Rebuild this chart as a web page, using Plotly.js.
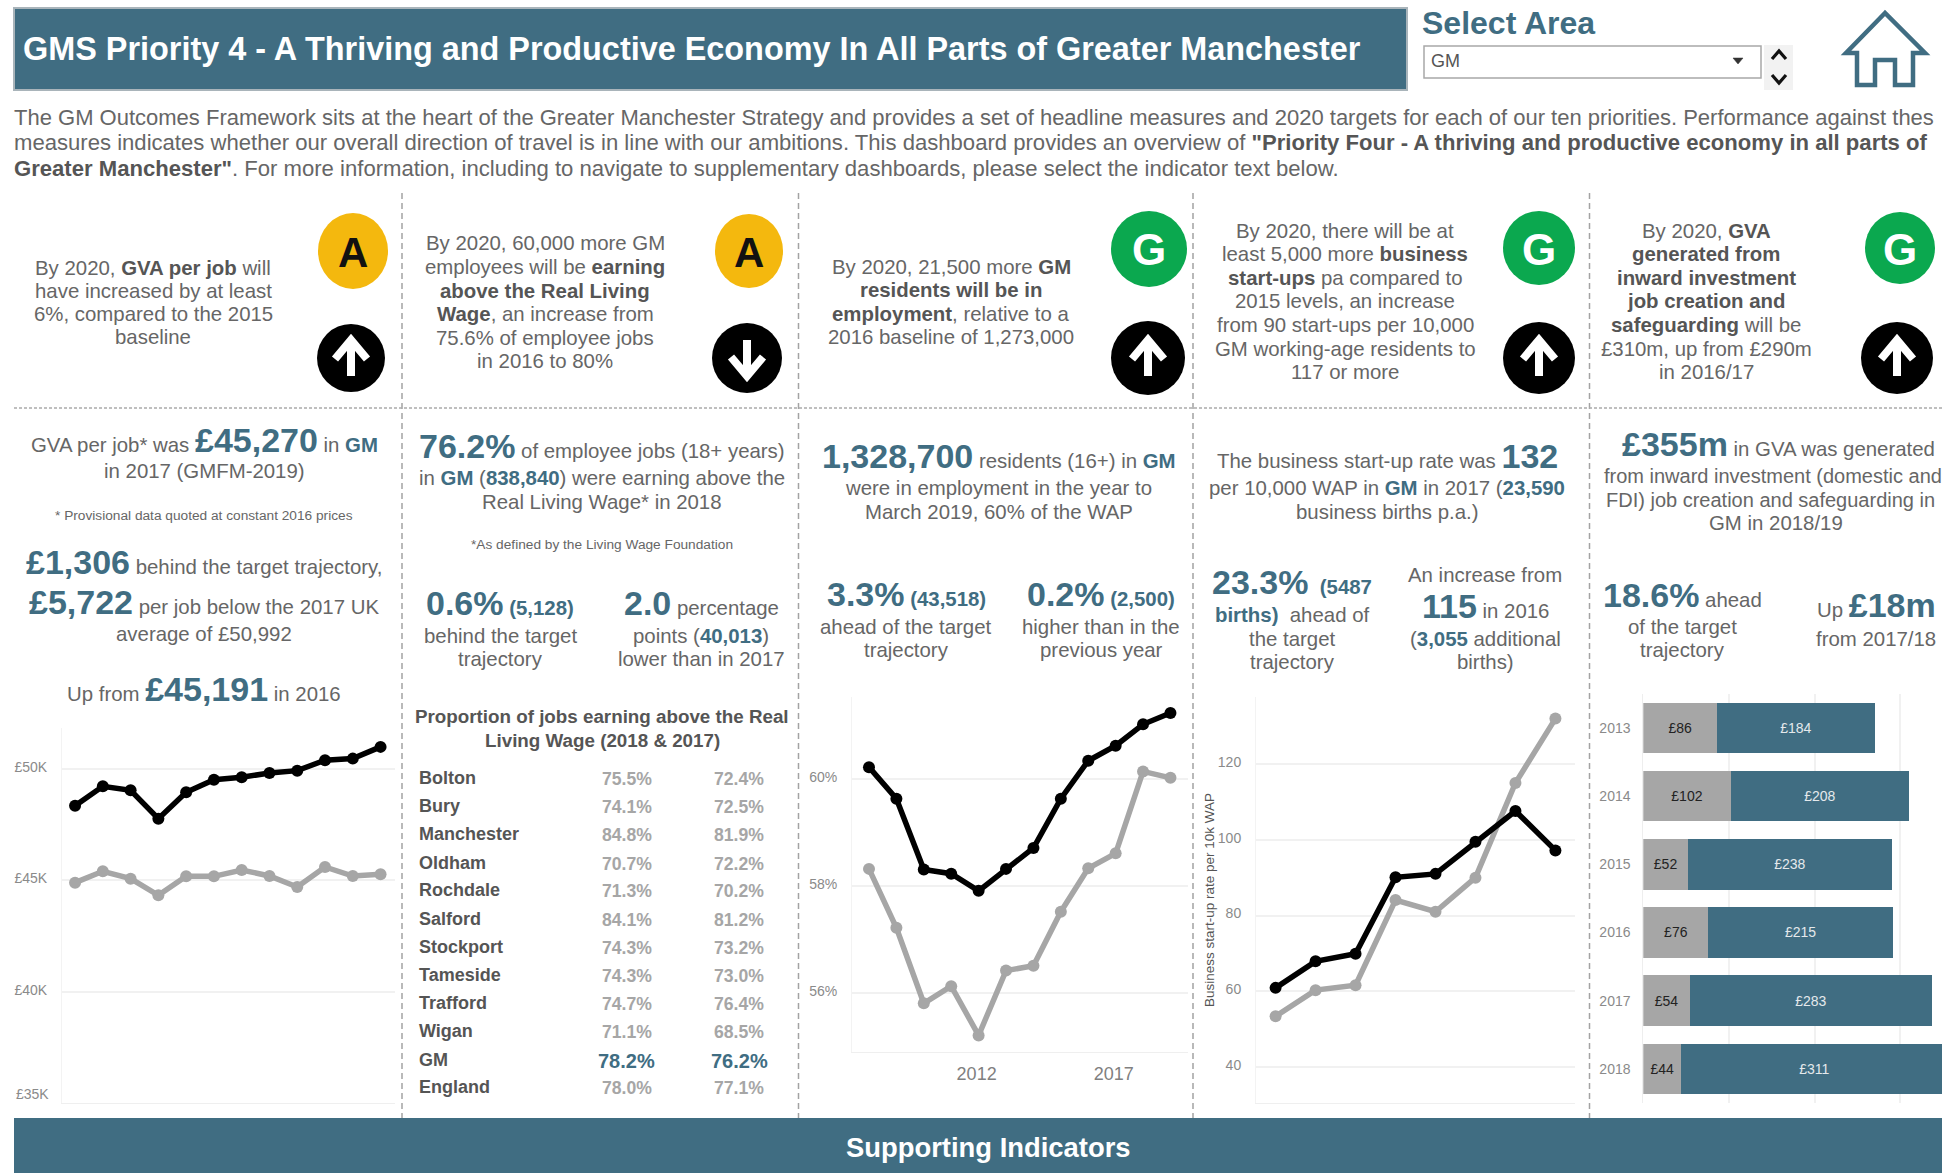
<!DOCTYPE html>
<html>
<head>
<meta charset="utf-8">
<script src="https://cdn.plot.ly/plotly-3.0.1.min.js"></script>
<style>html,body{margin:0;padding:0;background:#fff;overflow:hidden}#chart{width:1942px;height:1173px}</style>
</head>
<body>
<div id="chart"></div>
<script>
// ---------- data ----------
const gvaYears = [2006,2007,2008,2009,2010,2011,2012,2013,2014,2015,2016,2017];
const gvaUK = [48350,49220,49040,47765,48950,49520,49625,49820,49925,50390,50465,50992];
const gvaGM = [44895,45405,45075,44325,45180,45180,45465,45195,44700,45600,45191,45270];
const empYears = [2008,2009,2010,2011,2012,2013,2014,2015,2016,2017,2018,2019];
const empUK = [60.22,59.63,58.31,58.23,57.91,58.32,58.71,59.63,60.34,60.62,61.02,61.23];
const empGM = [58.32,57.22,55.81,56.13,55.21,56.42,56.51,57.52,58.33,58.61,60.14,60.02];
const startYears = [2010,2011,2012,2013,2014,2015,2016,2017];
const startUK = [60.9,67.9,69.9,90.1,91.0,99.5,107.6,97.2];
const startGM = [53.4,60.3,61.6,84.1,81.0,90.0,115,132];
const fdiYears = ['2013','2014','2015','2016','2017','2018'];
const fdiGrey = [86,102,52,76,54,44];
const fdiTeal = [184,208,238,215,283,311];
const rlwAreas = ['Bolton','Bury','Manchester','Oldham','Rochdale','Salford','Stockport','Tameside','Trafford','Wigan','GM','England'];
const rlwCol1 = ['75.5%','74.1%','84.8%','70.7%','71.3%','84.1%','74.3%','74.3%','74.7%','71.1%','78.2%','78.0%'];
const rlwCol2 = ['72.4%','72.5%','81.9%','72.2%','70.2%','81.2%','73.2%','73.0%','76.4%','68.5%','76.2%','77.1%'];
const gvaTicks = [40000,45000,50000];
const gvaTickLabels = ['£40K','£45K','£50K'];
const empTicks = [56,58,60];
const empTickLabels = ['56%','58%','60%'];
const startTicks = [40,60,80,100,120];
const yearTicks = [2012,2017];

// ---------- page helpers ----------
const W = 1942, H = 1173;
const TEAL = '#406d82', TXT = '#666666', DARK = '#555555';
const FONT = '"Liberation Sans", Arial, sans-serif';
const X = p => p / W, Y = p => 1 - p / H;
const anns = [], shapes = [];

function T(x, y, text, size, anchor, color) {
  anns.push({xref:'paper', yref:'paper', x:X(x), y:Y(y), text:text, showarrow:false,
    xanchor:anchor||'center', yanchor:'middle', align:anchor||'center', borderpad:0,
    font:{family:FONT, size:size||20.4, color:color||TXT}});
}
const BIG = s => `<span style="font-size:34px;color:${TEAL}"><b>${s}</b></span>`;
const TB = s => `<span style="color:${TEAL}"><b>${s}</b></span>`;
const K = s => `<b>${s}</b>`;
const KD = s => `<span style="color:${DARK}"><b>${s}</b></span>`;

function rect(x0,y0,x1,y1,fill,line,lw){
  shapes.push({type:'rect',xref:'paper',yref:'paper',x0:X(x0),x1:X(x1),y0:Y(y0),y1:Y(y1),
    fillcolor:fill||'rgba(0,0,0,0)',line:{color:line||'rgba(0,0,0,0)',width:lw||0}});
}
function oval(cx,cy,rx,ry,fill){
  shapes.push({type:'circle',xref:'paper',yref:'paper',x0:X(cx-rx),x1:X(cx+rx),y0:Y(cy-ry),y1:Y(cy+ry),
    fillcolor:fill,line:{width:0}});
}
function seg(x0,y0,x1,y1,dash,color,lw){
  shapes.push({type:'line',xref:'paper',yref:'paper',x0:X(x0),x1:X(x1),y0:Y(y0),y1:Y(y1),
    line:{color:color||'#a3a3a3',width:lw||1.5,dash:dash||'solid'}});
}
function poly(pts,close,line,lw,fill){
  const d = pts.map((p,i)=>(i?'L':'M')+X(p[0])+','+Y(p[1])).join(' ')+(close?' Z':'');
  shapes.push({type:'path',xref:'paper',yref:'paper',path:d,line:{color:line||'rgba(0,0,0,0)',width:lw||0},
    fillcolor:fill||'rgba(0,0,0,0)'});
}
function dirArrow(cx,cy,rx,ry,up){
  oval(cx,cy,rx,ry,'#000000');
  const s = up?1:-1;
  poly([[cx,cy+18*s],[cx,cy-17*s]],false,'#fff',8);
  poly([[cx-16,cy+1*s],[cx,cy-18*s],[cx+16,cy+1*s]],false,'#fff',8);
}
function badge(cx,cy,rx,ry,fill,letter,color,size){
  oval(cx,cy,rx,ry,fill);
  T(cx,cy+1,K(letter),size,'center',color);
}

// ---------- header ----------
rect(14,8,1407,90,TEAL,'#a9b4ba',2);
T(22,49,K('GMS Priority 4 - A Thriving and Productive Economy In All Parts of Greater Manchester'),32.4,'left','#ffffff');
T(1421,23,K('Select Area'),32,'left',TEAL);
rect(1424,46,1761,78,'#ffffff','#a8a8a8',1.5);
T(1430,61,'GM',18,'left','#555555');
poly([[1733,58],[1743,58],[1738,64]],true,'#333',0.5,'#333333');
rect(1764,45,1793,90,'#f2f2f2');
poly([[1772,59],[1779,51],[1786,59]],false,'#111',3.2);
poly([[1772,75],[1779,83],[1786,75]],false,'#111',3.2);
poly([[1885,13],[1846,53],[1857,53],[1857,85],[1875,85],[1875,60],[1895,60],[1895,85],[1913,85],[1913,53],[1925,53]],true,TEAL,4.5);

// ---------- intro ----------
T(13,117,'The GM Outcomes Framework sits at the heart of the Greater Manchester Strategy and provides a set of headline measures and 2020 targets for each of our ten priorities. Performance against thes',22,'left');
T(13,142,'measures indicates whether our overall direction of travel is in line with our ambitions. This dashboard provides an overview of '+KD('"Priority Four - A thriving and productive economy in all parts of'),22.1,'left');
T(13,168,KD('Greater Manchester"')+'. For more information, including to navigate to supplementary dashboards, please select the indicator text below.',22.1,'left');

// ---------- separators ----------
[402,798.5,1193,1589.5].forEach(x=>seg(x,193,x,1118,'6px,4px'));
seg(14,408,W,408,'3px,2px','#aaaaaa',1.5);

// ---------- target row ----------
T(153,268,'By 2020, '+KD('GVA per job')+' will');
T(153,291,'have increased by at least');
T(153,314,'6%, compared to the 2015');
T(153,337,'baseline');

T(545,243,'By 2020, 60,000 more GM');
T(545,267,'employees will be '+KD('earning'));
T(545,291,KD('above the Real Living'));
T(545,314,KD('Wage')+', an increase from');
T(545,338,'75.6% of employee jobs');
T(545,361,'in 2016 to 80%');

T(951,267,'By 2020, 21,500 more '+KD('GM'));
T(951,290,KD('residents will be in'));
T(951,314,KD('employment')+', relative to a');
T(951,337,'2016 baseline of 1,273,000');

T(1345,231,'By 2020, there will be at');
T(1345,254,'least 5,000 more '+KD('business'));
T(1345,278,KD('start-ups')+' pa compared to');
T(1345,301,'2015 levels, an increase');
T(1345,325,'from 90 start-ups per 10,000');
T(1345,349,'GM working-age residents to');
T(1345,372,'117 or more');

T(1706,231,'By 2020, '+KD('GVA'));
T(1706,254,KD('generated from'));
T(1706,278,KD('inward investment'));
T(1706,301,KD('job creation and'));
T(1706,325,KD('safeguarding')+' will be');
T(1706,349,'£310m, up from £290m');
T(1706,372,'in 2016/17');

badge(353,251,35,38,'#f4b80e','A','#111111',42);
badge(749,251,34,37,'#f4b80e','A','#111111',42);
badge(1149,249,38,38,'#0ba84f','G','#ffffff',44);
badge(1539,248,36,37,'#0ba84f','G','#ffffff',44);
badge(1900,248,35,36,'#0ba84f','G','#ffffff',44);
dirArrow(351,358,34,34,true);
dirArrow(747,358,35,35,false);
dirArrow(1148,358,37,37,true);
dirArrow(1539,358,36,36,true);
dirArrow(1897,358,36,36,true);

// ---------- column 1 ----------
T(204,440,'GVA per job* was '+BIG('£45,270')+' in '+TB('GM'));
T(204,471,'in 2017 (GMFM-2019)');
T(204,515,'* Provisional data quoted at constant 2016 prices',13.7);
T(204,562,BIG('£1,306')+' behind the target trajectory,');
T(204,602,BIG('£5,722')+' per job below the 2017 UK');
T(204,634,'average of £50,992');
T(204,689,'Up from '+BIG('£45,191')+' in 2016');
T(50,1094,'£35K',14,'right','#8a8a8a');

// ---------- column 2 ----------
T(602,446,BIG('76.2%')+' of employee jobs (18+ years)');
T(602,478,'in '+TB('GM')+' ('+TB('838,840')+') were earning above the');
T(602,502,'Real Living Wage* in 2018');
T(602,544,'*As defined by the Living Wage Foundation',13.7);
T(500,603,BIG('0.6%')+' '+TB('(5,128)'));
T(500,636,'behind the target');
T(500,659,'trajectory');
T(701,603,BIG('2.0')+' percentage');
T(701,636,'points ('+TB('40,013')+')');
T(701,659,'lower than in 2017');
T(602,716,K('Proportion of jobs earning above the Real'),18.8,'center',DARK);
T(602,740,K('Living Wage (2018 &amp; 2017)'),18.8,'center',DARK);

const rowY = [778,806,834,863,890,919,947,975,1003,1031,1060,1087];
rlwAreas.forEach((a,i)=>{
  T(418,rowY[i],K(a),18,'left',DARK);
  const gm = a==='GM';
  T(626.5,rowY[i]+1,K(rlwCol1[i]),gm?20:17.6,'center',gm?TEAL:'#a6a6a6');
  T(739,rowY[i]+1,K(rlwCol2[i]),gm?20:17.6,'center',gm?TEAL:'#a6a6a6');
});

// ---------- column 3 ----------
T(999,456,BIG('1,328,700')+' residents (16+) in '+TB('GM'));
T(999,488,'were in employment in the year to');
T(999,512,'March 2019, 60% of the WAP');
T(906,594,BIG('3.3%')+' '+TB('(43,518)'));
T(906,627,'ahead of the target');
T(906,650,'trajectory');
T(1101,594,BIG('0.2%')+' '+TB('(2,500)'));
T(1101,627,'higher than in the');
T(1101,650,'previous year');

// ---------- column 4 ----------
T(1387,456,'The business start-up rate was '+BIG('132'));
T(1387,488,'per 10,000 WAP in '+TB('GM')+' in 2017 ('+TB('23,590'));
T(1387,512,'business births p.a.)');
T(1292,582,BIG('23.3%')+'  '+TB('(5487'));
T(1292,615,TB('births)')+'  ahead of');
T(1292,639,'the target');
T(1292,662,'trajectory');
T(1485,575,'An increase from');
T(1485,606,BIG('115')+' in 2016');
T(1485,639,'('+TB('3,055')+' additional');
T(1485,662,'births)');

// ---------- column 5 ----------
T(1621,444,BIG('£355m')+' in GVA was generated',20.4,'left');
T(1603,476,'from inward investment (domestic and',20,'left');
T(1605,500,'FDI) job creation and safeguarding in',20,'left');
T(1776,523,'GM in 2018/19');
T(1682,595,BIG('18.6%')+' ahead');
T(1682,627,'of the target');
T(1682,650,'trajectory');
T(1876,605,'Up '+BIG('£18m'));
T(1876,639,'from 2017/18');

// ---------- banner ----------
rect(14,1118,W+4,H+4,TEAL);
T(988,1147,K('Supporting Indicators'),27.4,'center','#ffffff');

// ---------- charts ----------
const lineTrace = (x,y,color,xa,ya)=>({type:'scatter',mode:'lines+markers',x:x,y:y,xaxis:xa,yaxis:ya,
  line:{color:color,width:5.5},marker:{color:color,size:12},hoverinfo:'skip',cliponaxis:false});
const GREY='#a6a6a6', BLACK='#000000';
const traces = [
  lineTrace(gvaYears,gvaGM,GREY,'x','y'),
  lineTrace(gvaYears,gvaUK,BLACK,'x','y'),
  lineTrace(empYears,empGM,GREY,'x2','y2'),
  lineTrace(empYears,empUK,BLACK,'x2','y2'),
  lineTrace(startYears,startGM,GREY,'x3','y3'),
  lineTrace(startYears,startUK,BLACK,'x3','y3'),
  {type:'bar',orientation:'h',y:fdiYears,x:fdiGrey,xaxis:'x4',yaxis:'y4',marker:{color:GREY},
   texttemplate:'£%{x}',textposition:'inside',insidetextanchor:'middle',textangle:0,
   insidetextfont:{family:FONT,size:14,color:'#222222'},hoverinfo:'skip'},
  {type:'bar',orientation:'h',y:fdiYears,x:fdiTeal,xaxis:'x4',yaxis:'y4',marker:{color:TEAL},
   texttemplate:'£%{x}',textposition:'inside',insidetextanchor:'middle',textangle:0,
   insidetextfont:{family:FONT,size:14,color:'#e4e9ec'},hoverinfo:'skip'}
];
const GRID='#f1f1f1';
const tickFont={family:FONT,size:14,color:'#8a8a8a'};
function yAxis(top,bottom,range,extra){
  return Object.assign({domain:[Y(bottom),Y(top)],range:range,showgrid:true,gridcolor:GRID,gridwidth:2,
    zeroline:false,showline:true,linecolor:'#f3f3f3',ticks:'',ticklabelstandoff:11,ticklabelshift:-2,tickfont:tickFont,fixedrange:true},extra||{});
}
function xAxis(left,right,range,extra){
  return Object.assign({domain:[X(left),X(right)],range:range,showgrid:false,zeroline:false,showline:true,
    linecolor:'#efefef',ticks:'',showticklabels:false,fixedrange:true},extra||{});
}
const layout = {
  width:W,height:H,margin:{l:0,r:0,t:0,b:0,pad:0},paper_bgcolor:'#ffffff',plot_bgcolor:'#ffffff',
  showlegend:false,barmode:'stack',bargap:0.257,font:{family:FONT},hovermode:false,
  annotations:anns,shapes:shapes,
  xaxis:xAxis(62,395,[2005.53,2017.52],{anchor:'y'}),
  yaxis:yAxis(728,1103,[35000,51840],{anchor:'x',tickmode:'array',tickvals:gvaTicks,ticktext:gvaTickLabels}),
  xaxis2:xAxis(852,1188,[2007.38,2019.64],{anchor:'y2',showticklabels:true,tickmode:'array',tickvals:yearTicks,
    tickfont:{family:FONT,size:18,color:'#808080'},ticklabelstandoff:5,ticklabelshift:-2}),
  yaxis2:yAxis(697,1052,[54.9,61.53],{anchor:'x2',tickmode:'array',tickvals:empTicks,ticktext:empTickLabels}),
  xaxis3:xAxis(1256,1575,[2009.51,2017.49],{anchor:'y3'}),
  yaxis3:yAxis(697,1103,[30.5,137.7],{anchor:'x3',tickmode:'array',tickvals:startTicks,
    title:{text:'Business start-up rate per 10k WAP',font:{family:FONT,size:13.5,color:'#555555'},standoff:0}}),
  xaxis4:xAxis(1643.3,W,[0,348.5],{anchor:'y4',showgrid:true,gridcolor:GRID,gridwidth:2,showline:false,tickmode:'array',tickvals:[100,200,300]}),
  yaxis4:{domain:[Y(1103),Y(693.8)],type:'category',range:[5.5,-0.5],anchor:'x4',showgrid:false,zeroline:false,
    showline:true,linecolor:'#eeeeee',ticks:'',ticklabelstandoff:9,tickfont:tickFont,fixedrange:true}
};
Plotly.newPlot('chart',traces,layout,{displayModeBar:false,responsive:false});
</script>
</body>
</html>
